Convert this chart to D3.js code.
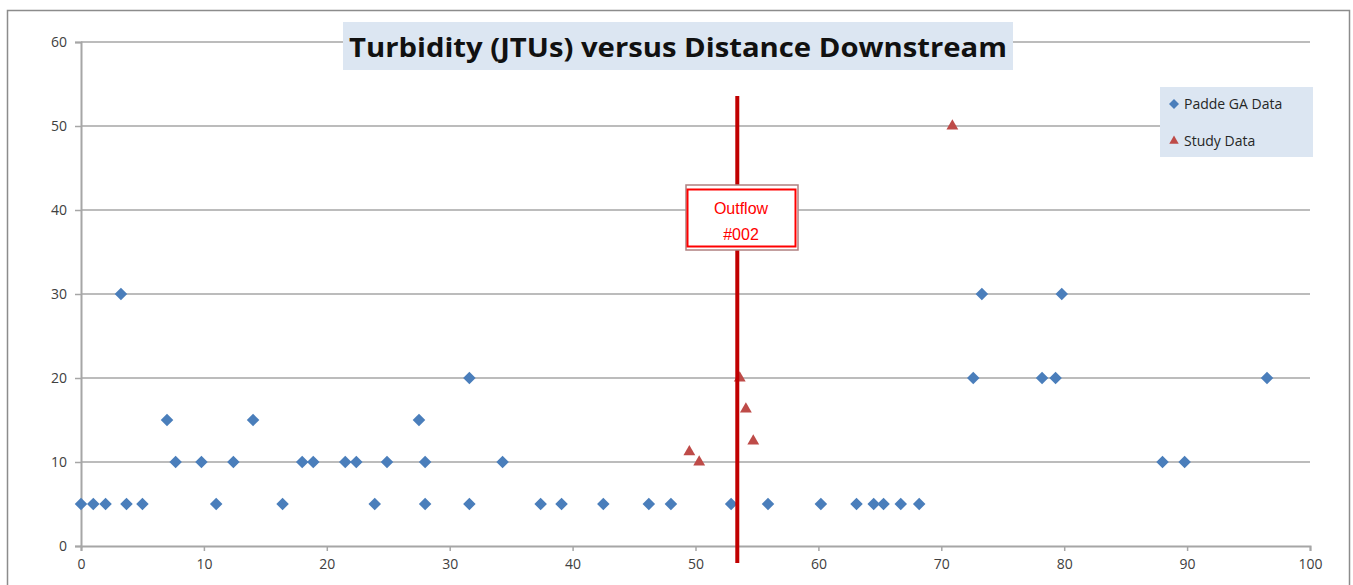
<!DOCTYPE html>
<html>
<head>
<meta charset="utf-8">
<script src="https://cdn.jsdelivr.net/npm/d3@7"></script>
<style>
  body { margin: 0; background: #fff; }
  #chart { width: 1353px; height: 585px; }
</style>
</head>
<body>
<div id="chart"></div>
<script>
// Padde GA data, distance downstream vs turbidity (JTUs)
var paddeX = [0, 1, 2, 3.25, 3.7, 5, 7, 7.7, 9.8, 11, 12.4, 14, 16.4, 18, 18.9,
    21.5, 22.4, 23.9, 24.9, 27.5, 28, 28, 31.6, 31.6, 34.3, 37.4, 39.1, 42.5,
    46.2, 48, 52.9, 55.9, 60.2, 63.1, 64.5, 65.3, 66.7, 68.2, 72.6, 73.3,
    78.2, 79.3, 79.8, 88, 89.8, 96.5];
var paddeY = [5, 5, 5, 30, 5, 5, 15, 10, 10, 5, 10, 15, 5, 10, 10,
    10, 10, 5, 10, 15, 10, 5, 20, 5, 10, 5, 5, 5,
    5, 5, 5, 5, 5, 5, 5, 5, 5, 5, 20, 30,
    20, 20, 30, 10, 10, 20];
// study data
var studyX = [49.5, 50.3, 53.6, 54.1, 54.7, 70.9];
var studyY = [11.2, 10, 20, 16.3, 12.5, 50];

var outflowX = 53.4;
var xTicks = [0, 10, 20, 30, 40, 50, 60, 70, 80, 90, 100];
var yTicks = [0, 10, 20, 30, 40, 50, 60];
var legendLabels = ["Padde GA Data", "Study Data"];

var width = 1353, height = 585;
var svg = d3.select("#chart").append("svg")
    .attr("width", width)
    .attr("height", height);

// outer chart border
svg.append("rect")
    .attr("x", 7.5).attr("y", 10.5)
    .attr("width", 1342).attr("height", 600)
    .attr("fill", "#fff")
    .attr("stroke", "#8c8c8c")
    .attr("stroke-width", 1.5);

var x = d3.scaleLinear().domain([0, 100]).range([81, 1310]);
var y = d3.scaleLinear().domain([0, 60]).range([546, 42]);

// gridlines
svg.append("g").selectAll("line")
    .data(yTicks.filter(function(d){ return d > 0; }))
    .enter().append("line")
    .attr("x1", x(0)).attr("x2", x(100))
    .attr("y1", function(d){ return y(d); })
    .attr("y2", function(d){ return y(d); })
    .attr("stroke", "#a6a6a6")
    .attr("stroke-width", 1.5);

// y axis
var yAxis = svg.append("g")
    .attr("transform", "translate(" + x(0) + ",0)")
    .call(d3.axisLeft(y).tickValues(yTicks).tickSize(6).tickPadding(8));
// x axis
var xAxis = svg.append("g")
    .attr("transform", "translate(0," + y(0) + ")")
    .call(d3.axisBottom(x).tickValues(xTicks).tickSize(5).tickPadding(8));

[xAxis, yAxis].forEach(function(ax){
    ax.select(".domain").attr("stroke", "#a6a6a6").attr("stroke-width", 2);
    ax.selectAll(".tick line").attr("stroke", "#a6a6a6").attr("stroke-width", 1.5);
    ax.selectAll("text")
        .attr("fill", "#404040")
        .style("font-family", "'Open Sans', sans-serif")
        .style("font-size", "14px");
});
yAxis.selectAll("text").attr("dy", "0.35em");

// title
svg.append("rect")
    .attr("x", 343).attr("y", 22)
    .attr("width", 670).attr("height", 48)
    .attr("fill", "#dce6f2");
svg.append("text")
    .attr("x", 678).attr("y", 57)
    .attr("text-anchor", "middle")
    .attr("textLength", 658)
    .attr("lengthAdjust", "spacingAndGlyphs")
    .style("font-family", "'Open Sans', sans-serif")
    .style("font-weight", "bold")
    .style("font-size", "27px")
    .attr("fill", "#111")
    .text("Turbidity (JTUs) versus Distance Downstream");

var diamond = d3.symbol().type(d3.symbolDiamond2).size(100);
var triangle = d3.symbol().type(d3.symbolTriangle2).size(100);

// padde points
svg.append("g").selectAll("path")
    .data(paddeX.map(function(d, i){ return [d, paddeY[i]]; }))
    .enter().append("path")
    .attr("d", diamond)
    .attr("transform", function(d){ return "translate(" + x(d[0]) + "," + y(d[1]) + ")"; })
    .attr("fill", "#4a7ebb");

// study points
svg.append("g").selectAll("path")
    .data(studyX.map(function(d, i){ return [d, studyY[i]]; }))
    .enter().append("path")
    .attr("d", triangle)
    .attr("transform", function(d){ return "translate(" + x(d[0]) + "," + y(d[1]) + ")"; })
    .attr("fill", "#be4b48");

// outflow line
svg.append("line")
    .attr("x1", x(outflowX)).attr("x2", x(outflowX))
    .attr("y1", 96).attr("y2", 563)
    .attr("stroke", "#c00000")
    .attr("stroke-width", 4);

// outflow label
svg.append("rect")
    .attr("x", 686).attr("y", 185)
    .attr("width", 112).attr("height", 65)
    .attr("fill", "#fff")
    .attr("stroke", "#b08080")
    .attr("stroke-width", 1.5);
svg.append("rect")
    .attr("x", 687.5).attr("y", 189.5)
    .attr("width", 108).attr("height", 57)
    .attr("fill", "#fff")
    .attr("stroke", "#ff0000")
    .attr("stroke-width", 2);
svg.append("text")
    .attr("x", 741).attr("y", 214)
    .attr("text-anchor", "middle")
    .style("font-family", "'Liberation Sans', Arial, sans-serif")
    .style("font-size", "16px")
    .attr("fill", "#ff0000")
    .text("Outflow");
svg.append("text")
    .attr("x", 741).attr("y", 240)
    .attr("text-anchor", "middle")
    .style("font-family", "'Liberation Sans', Arial, sans-serif")
    .style("font-size", "16px")
    .attr("fill", "#ff0000")
    .text("#002");

// legend
var legend = svg.append("g");
legend.append("rect")
    .attr("x", 1160).attr("y", 87)
    .attr("width", 153).attr("height", 70)
    .attr("fill", "#dce6f2");
var legendSym = [diamond, triangle];
var legendCol = ["#4a7ebb", "#be4b48"];
legendLabels.forEach(function(lab, i){
    var ly = 104 + i * 37;
    legend.append("path")
        .attr("d", legendSym[i])
        .attr("transform", "translate(1174," + ly + ") scale(0.8)")
        .attr("fill", legendCol[i]);
    legend.append("text")
        .attr("x", 1184).attr("y", ly + 5)
        .style("font-family", "'Open Sans', sans-serif")
        .style("font-size", "14px")
        .attr("fill", "#262626")
        .text(lab);
});
</script>
</body>
</html>
